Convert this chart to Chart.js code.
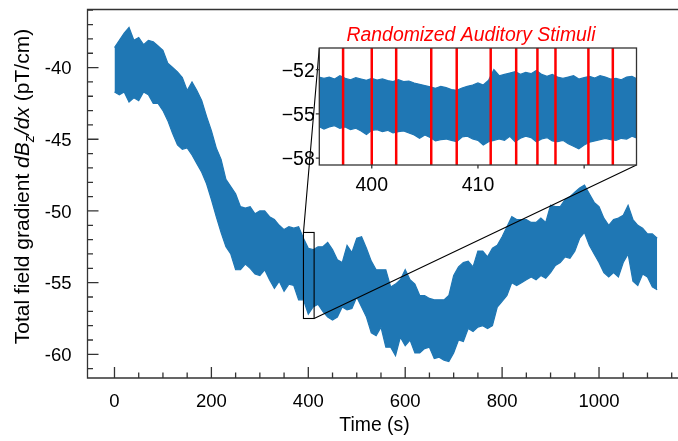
<!DOCTYPE html>
<html>
<head>
<meta charset="utf-8">
<script src="https://cdn.jsdelivr.net/npm/chart.js@4.4.1/dist/chart.umd.min.js"></script>
<style>
  html, body { margin: 0; padding: 0; background: #fff; }
  #wrap { position: relative; width: 678px; height: 441px; }
  #mainChart { position: absolute; left: 0; top: 0; }
  #insetChart { position: absolute; left: 270px; top: 20px; }
</style>
</head>
<body>
<div id="wrap">
  <canvas id="mainChart" width="678" height="441"></canvas>
  <canvas id="insetChart" width="380" height="180"></canvas>
</div>
<script>
// main trace, envelope of the fast oscillation (s, pT/cm)
const times = [
  0, 10, 20, 30, 40, 50, 60, 70, 80, 90,
  100, 110, 120, 130, 140, 150, 160, 170, 180, 190,
  200, 210, 220, 230, 240, 250, 260, 270, 280, 290,
  300, 310, 320, 330, 340, 350, 360, 370, 380, 390,
  400, 410, 420, 430, 440, 450, 460, 470, 480, 490,
  500, 510, 520, 530, 540, 550, 560, 570, 580, 590,
  600, 610, 620, 630, 640, 650, 660, 670, 680, 690,
  700, 710, 720, 730, 740, 750, 760, 770, 780, 790,
  800, 810, 820, 830, 840, 850, 860, 870, 880, 890,
  900, 910, 920, 930, 940, 950, 960, 970, 980, 990,
  1000, 1010, 1020, 1030, 1040, 1050, 1060, 1070, 1080, 1090,
  1100, 1110, 1120
];
const upperEdge = [
  -38.6, -38.1, -37.6, -37.2, -38.1, -37.9, -38.4, -38.1, -38.2, -38.5,
  -38.8, -39.7, -40.0, -40.3, -40.7, -41.6, -41.0, -41.6, -42.3, -43.4,
  -44.4, -45.6, -46.4, -47.8, -48.3, -48.8, -49.7, -49.8, -49.7, -50.2,
  -50.0, -50.0, -50.4, -50.6, -51.0, -51.3, -51.1, -51.2, -51.1, -51.9,
  -52.6, -52.7, -52.5, -52.5, -52.2, -52.7, -53.4, -53.6, -52.4, -52.9,
  -51.9, -51.8, -52.6, -53.5, -54.1, -54.1, -54.1, -55.3, -55.1, -54.8,
  -54.1, -54.8, -55.1, -55.9, -55.9, -56.1, -56.2, -56.2, -56.2, -55.9,
  -54.5, -53.9, -53.6, -53.5, -53.9, -52.8, -52.8, -53.2, -52.6, -52.4,
  -51.8, -51.1, -50.4, -50.6, -50.6, -50.6, -50.8, -50.8, -50.5, -50.8,
  -49.6, -49.7, -49.7, -49.2, -49.0, -48.7, -48.4, -48.2, -48.8, -49.4,
  -49.7, -50.5, -51.0, -50.6, -50.5, -50.3, -49.6, -50.6, -51.0, -51.2,
  -51.6, -51.6, -51.9
];
const lowerEdge = [
  -41.7, -41.9, -41.7, -42.4, -42.1, -42.3, -41.7, -41.9, -42.5, -42.5,
  -43.0, -43.7, -44.6, -45.4, -45.7, -45.6, -46.1, -46.7, -47.3, -48.1,
  -49.2, -50.4, -51.5, -52.5, -53.0, -54.1, -54.1, -53.7, -54.0, -54.4,
  -54.5, -54.1, -54.8, -55.4, -54.9, -55.6, -55.1, -55.2, -56.2, -56.2,
  -57.2, -56.7, -56.5, -57.0, -57.4, -57.6, -57.4, -56.7, -56.9, -56.8,
  -56.0, -56.7, -57.4, -58.5, -58.7, -58.1, -59.5, -59.5, -60.1, -58.8,
  -59.4, -59.0, -59.9, -59.9, -59.6, -59.5, -60.3, -60.2, -60.4, -60.5,
  -59.9, -59.0, -59.1, -58.2, -58.4, -58.1, -58.0, -58.2, -58.0, -56.7,
  -56.3, -55.9, -55.0, -55.2, -55.0, -54.8, -54.6, -54.8, -54.5, -54.7,
  -54.3, -53.8, -53.6, -53.2, -53.3, -52.8, -51.9, -51.5, -52.4, -53.0,
  -53.6, -54.3, -54.6, -54.3, -54.6, -53.6, -53.0, -54.9, -55.2, -54.4,
  -54.6, -55.3, -55.5
];
const xTicks = [0, 200, 400, 600, 800, 1000];
const yTicks = [-40, -45, -50, -55, -60];

// zoomed inset
const insetTimes = [
  395, 395.5, 396, 396.5, 397, 397.5, 398, 398.5, 399, 399.5,
  400, 400.5, 401, 401.5, 402, 402.5, 403, 403.5, 404, 404.5,
  405, 405.5, 406, 406.5, 407, 407.5, 408, 408.5, 409, 409.5,
  410, 410.5, 411, 411.5, 412, 412.5, 413, 413.5, 414, 414.5,
  415, 415.5, 416, 416.5, 417, 417.5, 418, 418.5, 419, 419.5,
  420, 420.5, 421, 421.5, 422, 422.5, 423, 423.5, 424, 424.5,
  425
];
const insetUpper = [
  -52.50, -52.59, -52.50, -52.63, -52.41, -52.59, -52.68, -52.54, -52.63, -52.72,
  -52.59, -52.70, -52.63, -52.74, -52.81, -52.68, -52.81, -52.77, -52.90, -52.99,
  -53.08, -53.17, -53.26, -53.13, -53.22, -53.35, -53.40, -53.24, -53.13, -53.04,
  -52.90, -53.04, -52.72, -52.00, -52.41, -52.32, -52.23, -52.14, -52.32, -52.18,
  -52.27, -52.05, -52.32, -52.45, -52.32, -52.50, -52.59, -52.50, -52.41, -52.63,
  -52.54, -52.45, -52.56, -52.41, -52.50, -52.63, -52.59, -52.68, -52.50, -52.45,
  -52.63
];
const insetLower = [
  -55.84, -56.02, -55.88, -55.79, -55.97, -55.88, -56.06, -55.97, -56.15, -56.40,
  -56.11, -56.06, -56.20, -56.11, -56.29, -56.20, -56.15, -56.29, -56.42, -56.65,
  -56.42, -56.60, -56.83, -56.74, -56.70, -56.79, -56.88, -56.56, -56.51, -56.70,
  -56.79, -57.10, -56.88, -56.79, -56.70, -56.79, -56.51, -56.88, -56.65, -56.51,
  -56.60, -56.88, -56.70, -56.60, -56.83, -56.88, -56.79, -57.01, -57.19, -57.37,
  -57.10, -56.92, -56.83, -56.74, -56.65, -56.74, -56.79, -56.65, -56.70, -56.51,
  -56.65
];
const stimuli = [397.3, 400.0, 402.3, 405.6, 408.0, 411.2, 413.6, 415.6, 417.3, 420.4, 422.7];
const insetXTicks = [400, 410, 420];
const insetXLabels = ['400', '410', ''];
const insetYTicks = [-52, -55, -58];
const insetYLabels = ['\u221252', '\u221255', '\u221258'];
const zoomBoxX = [390, 412];
const zoomBoxY = [-51.5, -57.5];

const FONT = "'Liberation Sans', Arial, sans-serif";
const AXIS = '#333333';
const BLUE = '#1f77b4';
const INSET_LEFT = 270, INSET_TOP = 20;

function band(xs, top, bottom) {
  return [
    { data: xs.map((t, i) => ({ x: t, y: top[i] })), borderColor: BLUE, backgroundColor: BLUE,
      borderWidth: 1.2, pointRadius: 0, fill: '+1' },
    { data: xs.map((t, i) => ({ x: t, y: bottom[i] })), borderColor: BLUE, backgroundColor: BLUE,
      borderWidth: 1.2, pointRadius: 0, fill: false }
  ];
}

// inset drawing: red stimulus lines, frame, outward ticks, labels, title
const insetDeco = {
  id: 'insetDeco',
  afterDatasetsDraw(chart) {
    const { ctx, chartArea: a, scales: { x, y } } = chart;
    ctx.save();
    ctx.strokeStyle = '#ff0000';
    ctx.lineWidth = 2.5;
    stimuli.forEach(s => {
      const px = x.getPixelForValue(s);
      ctx.beginPath(); ctx.moveTo(px, a.top); ctx.lineTo(px, a.bottom); ctx.stroke();
    });
    ctx.strokeStyle = AXIS;
    ctx.lineWidth = 1.3;
    ctx.strokeRect(a.left, a.top, a.right - a.left, a.bottom - a.top);
    ctx.beginPath();
    insetYTicks.forEach(v => { const py = y.getPixelForValue(v); ctx.moveTo(a.left - 3.5, py); ctx.lineTo(a.left, py); });
    insetXTicks.forEach(v => { const px = x.getPixelForValue(v); ctx.moveTo(px, a.bottom); ctx.lineTo(px, a.bottom + 3.5); });
    ctx.stroke();

    ctx.fillStyle = '#000';
    ctx.font = '19.5px ' + FONT;
    ctx.textBaseline = 'alphabetic';
    ctx.textAlign = 'right';
    insetYTicks.forEach((v, i) => ctx.fillText(insetYLabels[i], a.left - 4.5, y.getPixelForValue(v) + 7));
    ctx.textAlign = 'center';
    insetXTicks.forEach((v, i) => ctx.fillText(insetXLabels[i], x.getPixelForValue(v), a.bottom + 26));

    ctx.fillStyle = '#ff0000';
    ctx.font = 'italic 19.4px ' + FONT;
    ctx.fillText('Randomized Auditory Stimuli', 201, 21);
    ctx.restore();
  }
};

const insetChart = new Chart(document.getElementById('insetChart'), {
  type: 'line',
  data: { datasets: band(insetTimes, insetUpper, insetLower) },
  options: {
    responsive: false, animation: false, events: [],
    layout: { padding: { left: 49.3, top: 28, right: 13.5, bottom: 35 } },
    plugins: { legend: { display: false }, tooltip: { enabled: false } },
    scales: {
      x: { type: 'linear', display: false, min: 395.06, max: 424.93 },
      y: { type: 'linear', display: false, min: -58.46, max: -50.53 }
    }
  },
  plugins: [insetDeco]
});

// main axes: frame, inward ticks, labels, zoom box, connectors
const mainDeco = {
  id: 'mainDeco',
  afterDatasetsDraw(chart) {
    const { ctx, chartArea: a, scales: { x, y } } = chart;
    ctx.save();
    const bx0 = x.getPixelForValue(zoomBoxX[0]), bx1 = x.getPixelForValue(zoomBoxX[1]);
    const by0 = y.getPixelForValue(zoomBoxY[0]), by1 = y.getPixelForValue(zoomBoxY[1]);
    const ia = insetChart.chartArea;
    ctx.strokeStyle = '#000';
    ctx.lineWidth = 1.1;
    ctx.strokeRect(bx0, by0, bx1 - bx0, by1 - by0);
    ctx.beginPath();
    ctx.moveTo(bx0, by0); ctx.lineTo(INSET_LEFT + ia.left, INSET_TOP + ia.top);
    ctx.moveTo(bx1, by1); ctx.lineTo(INSET_LEFT + ia.right, INSET_TOP + ia.bottom);
    ctx.stroke();

    ctx.strokeStyle = AXIS;
    ctx.lineWidth = 1.3;
    ctx.beginPath();
    ctx.moveTo(a.right, a.top); ctx.lineTo(a.left, a.top);
    ctx.lineTo(a.left, a.bottom); ctx.lineTo(a.right, a.bottom);
    ctx.stroke();

    ctx.beginPath();
    for (let v = 0; v <= 1150; v += 50) {
      const px = x.getPixelForValue(v);
      const len = v % 200 === 0 ? 11 : 5.5;
      ctx.moveTo(px, a.bottom); ctx.lineTo(px, a.bottom - len);
    }
    for (let v = -61; v <= -36; v += 1) {
      const py = y.getPixelForValue(v);
      const len = v % 5 === 0 ? 11 : 5.5;
      ctx.moveTo(a.left, py); ctx.lineTo(a.left + len, py);
    }
    ctx.stroke();

    ctx.fillStyle = '#000';
    ctx.font = '18.5px ' + FONT;
    ctx.textBaseline = 'alphabetic';
    ctx.textAlign = 'right';
    yTicks.forEach(v => ctx.fillText(String(v), a.left - 16, y.getPixelForValue(v) + 6.7));
    ctx.textAlign = 'center';
    xTicks.forEach(v => ctx.fillText(String(v), x.getPixelForValue(v), a.bottom + 28.6));
    ctx.font = '19.4px ' + FONT;
    ctx.fillText('Time (s)', 374.5, 431);

    // rotated y title with italic dB_z/dx
    const parts = [
      { t: 'Total field gradient ', f: '21px ' + FONT, dy: 0 },
      { t: 'dB', f: 'italic 21px ' + FONT, dy: 0 },
      { t: 'z', f: 'italic 14.5px ' + FONT, dy: 5 },
      { t: '/dx', f: 'italic 21px ' + FONT, dy: 0 },
      { t: ' (pT/cm)', f: '21px ' + FONT, dy: 0 }
    ];
    let total = 0;
    parts.forEach(p => { ctx.font = p.f; p.w = ctx.measureText(p.t).width; total += p.w; });
    ctx.translate(29, 186.5);
    ctx.rotate(-Math.PI / 2);
    ctx.textAlign = 'left';
    let cx = -total / 2;
    parts.forEach(p => { ctx.font = p.f; ctx.fillText(p.t, cx, p.dy); cx += p.w; });
    ctx.restore();
  }
};

new Chart(document.getElementById('mainChart'), {
  type: 'line',
  data: { datasets: band(times, upperEdge, lowerEdge) },
  options: {
    responsive: false, animation: false, events: [],
    layout: { padding: { left: 87.5, top: 9.5, right: 0, bottom: 63 } },
    plugins: { legend: { display: false }, tooltip: { enabled: false } },
    scales: {
      x: { type: 'linear', display: false, min: -55.7, max: 1163 },
      y: { type: 'linear', display: false, min: -61.65, max: -35.95 }
    }
  },
  plugins: [mainDeco]
});
</script>
</body>
</html>
